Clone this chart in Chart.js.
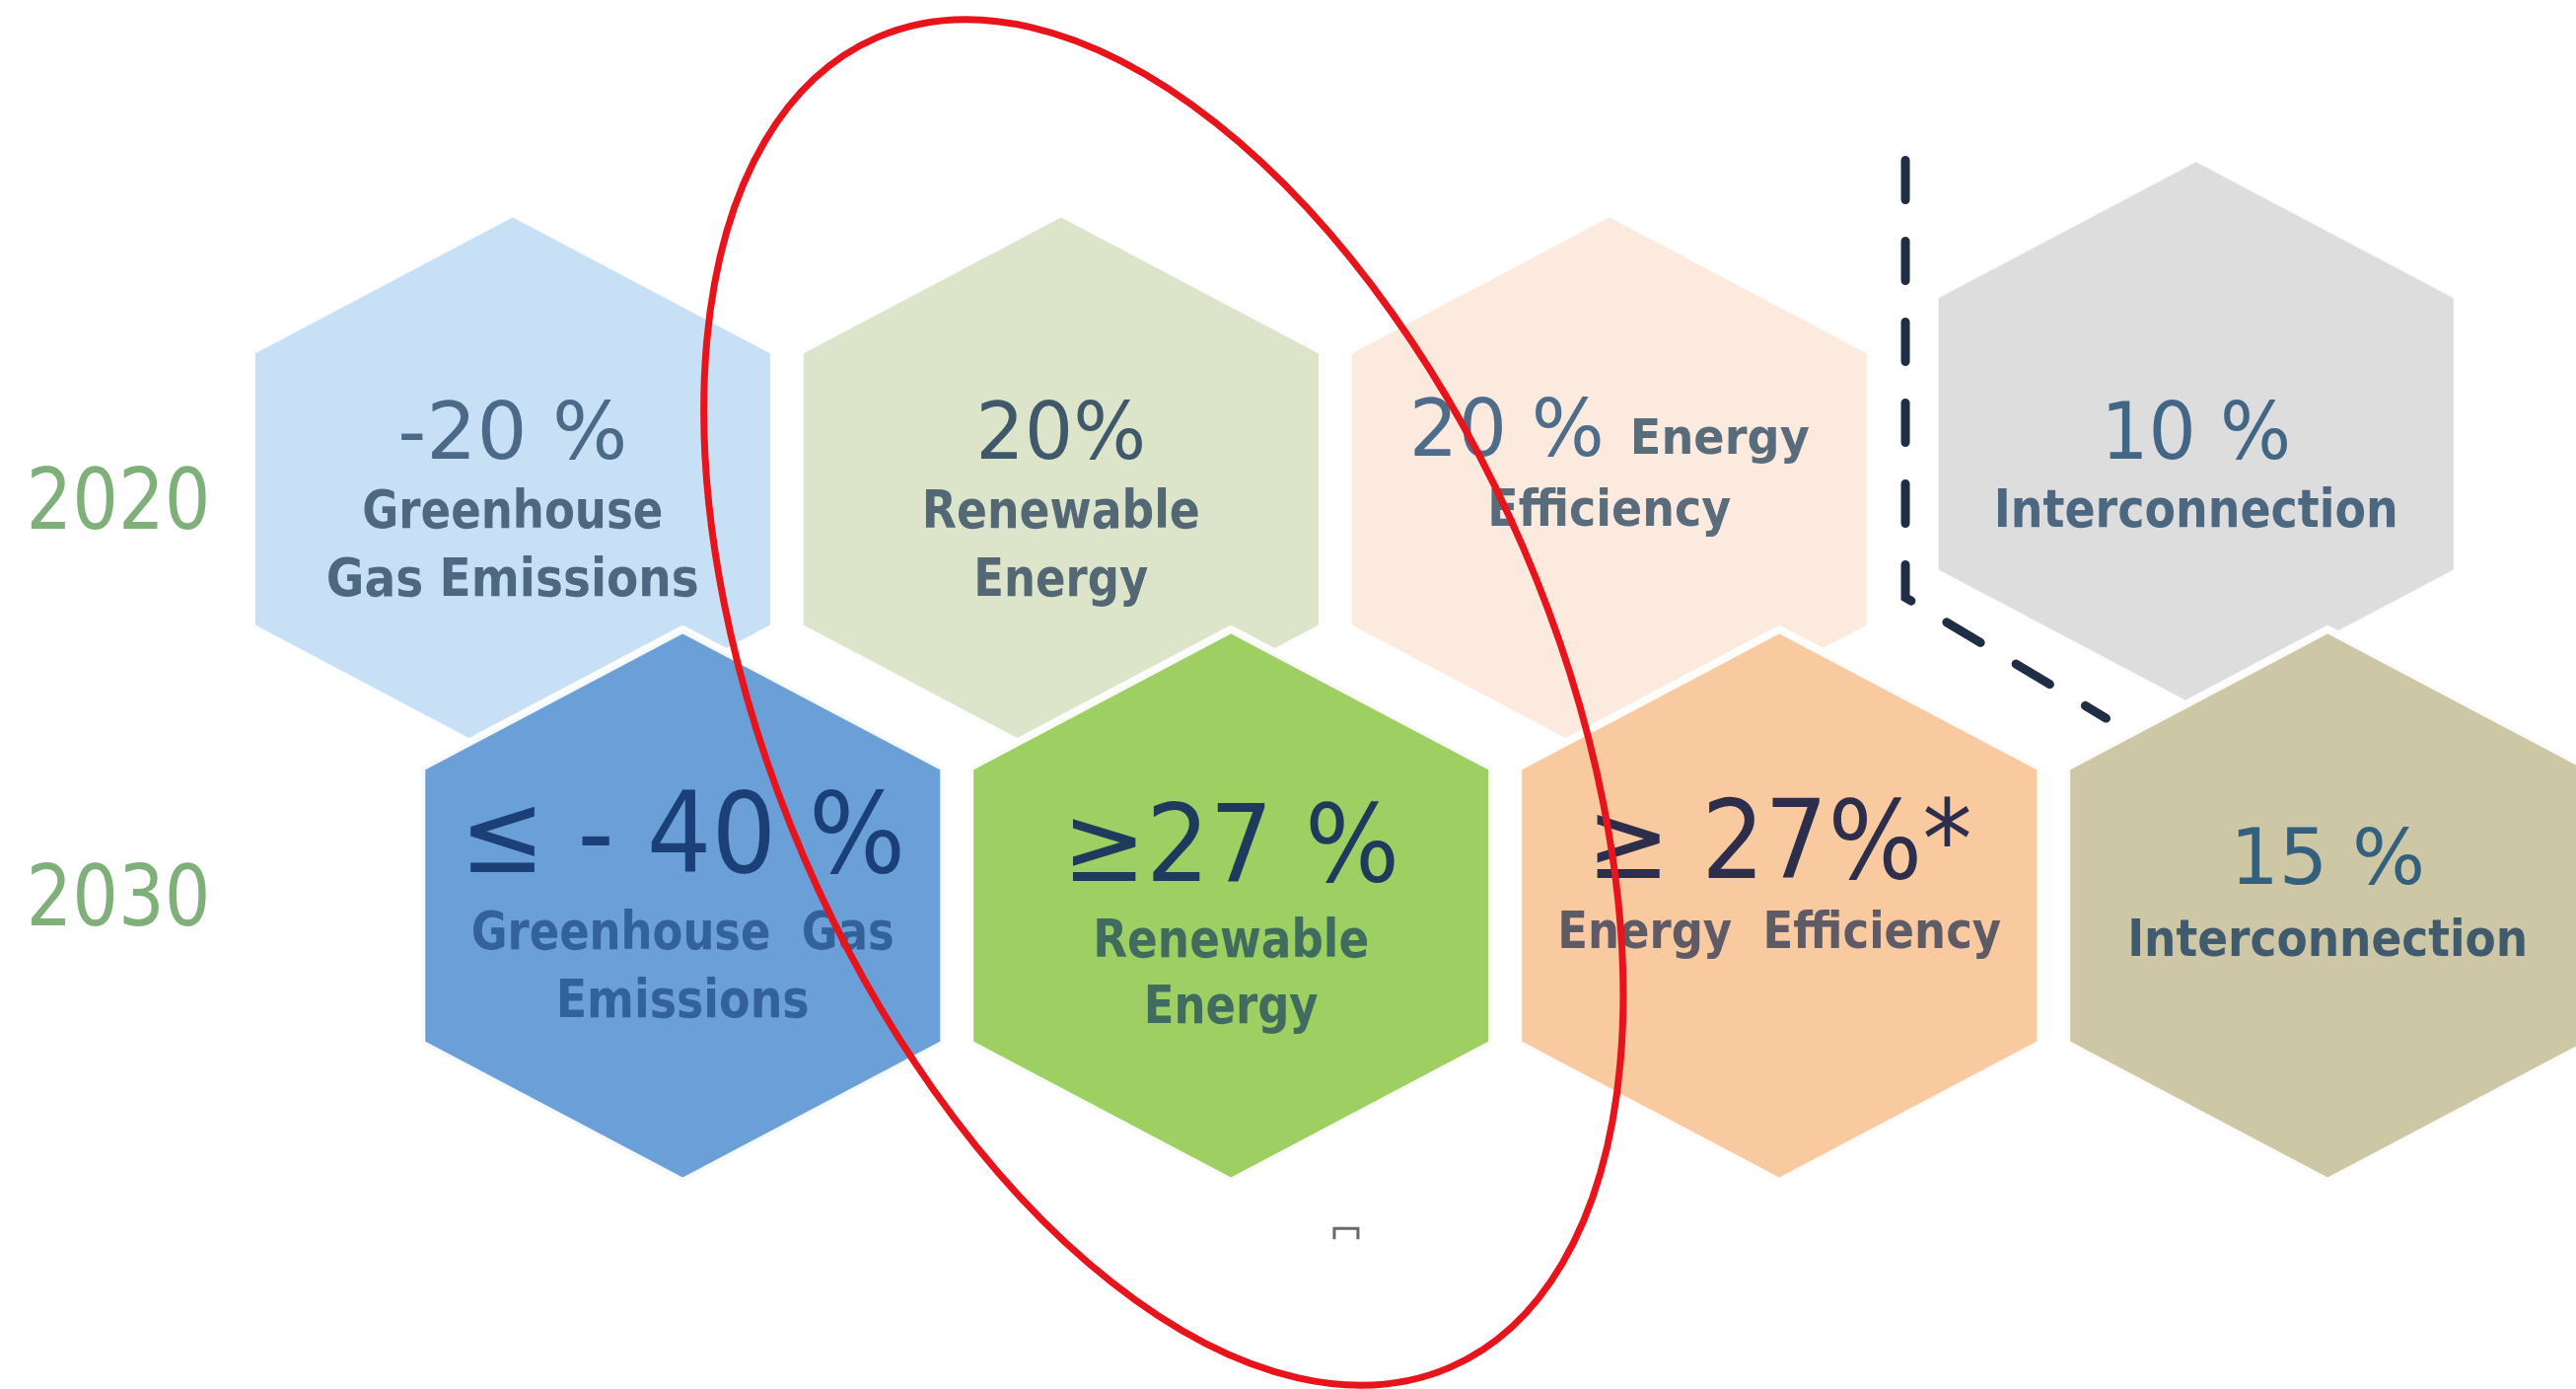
<!DOCTYPE html>
<html>
<head>
<meta charset="utf-8">
<script src="https://cdn.jsdelivr.net/npm/chart.js@4.4.1/dist/chart.umd.min.js"></script>
<style>
  html, body { margin: 0; padding: 0; background: #ffffff; overflow: hidden; }
  canvas { display: block; }
</style>
</head>
<body>
<canvas id="c" width="2612" height="1408"></canvas>
<script>
// ---------------- DATA ----------------
const years = ['2020', '2030'];
const areas = ['Greenhouse Gas Emissions', 'Renewable Energy', 'Energy Efficiency', 'Interconnection'];
const headline2020 = ['-20 %', '20%', '20 %', '10 %'];
const headline2030 = ['\u2264 - 40 %', '\u226527 %', '\u2265 27%*', '15 %'];
const caption2020 = [['Greenhouse', 'Gas Emissions'], ['Renewable', 'Energy'], ['Energy', 'Efficiency'], ['Interconnection']];
const caption2030 = [['Greenhouse  Gas', 'Emissions'], ['Renewable', 'Energy'], ['Energy  Efficiency'], ['Interconnection']];

// ---------------- LAYOUT / STYLE ----------------
const colShift2020 = [0, 0, 0, 0.07];
const rowShift2020 = [0, 0, 0, -0.133];
const colShift2030 = [0.31, 0.31, 0.31, 0.31];
const rowShift2030 = [0, 0, 0, 0];
const fill2020 = ['#c7e0f6', '#dce4ca', '#fdeadf', '#dddddd'];
const fill2030 = ['#6a9fd8', '#9dcf63', '#f9c9a0', '#cec7a6'];

const HEX_HW = 265, HEX_R = 280, HEX_BORDER = 8;

const style2020 = [
  {head: {font: '80px "DejaVu Sans"', w: 233, dy: -31, color: '#4a6a88'},
   capFont: 'bold 54px "DejaVu Sans"', capColor: '#4e6882', caps: [{w: 305, dy: 39}, {w: 378, dy: 108}]},
  {head: {font: '80px "DejaVu Sans"', w: 173, dy: -31, color: '#40596a'},
   capFont: 'bold 54px "DejaVu Sans"', capColor: '#536874', caps: [{w: 282, dy: 39}, {w: 177, dy: 108}]},
  {head: {font: '80px "DejaVu Sans"', w: 198, dy: -34, color: '#4d6d8a'},
   inline: {font: 'bold 50px "DejaVu Sans"', w: 182, dy: -36, gap: 26},
   capFont: 'bold 52px "DejaVu Sans"', capColor: '#596c7c', caps: [null, {w: 247, dy: 37}]},
  {head: {font: '80px "DejaVu Sans"', w: 193, dy: -31, color: '#426686'},
   capFont: 'bold 54px "DejaVu Sans"', capColor: '#4c6780', caps: [{w: 410, dy: 38}]}
];
const style2030 = [
  {head: {font: '114px "DejaVu Sans"', w: 452, dy: -34, color: '#1b3f77'},
   capFont: 'bold 54px "DejaVu Sans"', capColor: '#33619b', caps: [{w: 429, dy: 44}, {w: 257, dy: 113}]},
  {head: {font: '108px "DejaVu Sans"', w: 342, dy: -25, color: '#1e3b5e'},
   capFont: 'bold 54px "DejaVu Sans"', capColor: '#3f6c5e', caps: [{w: 280, dy: 52}, {w: 177, dy: 119}]},
  {head: {font: '110px "DejaVu Sans"', w: 391, dy: -28, color: '#2c2e4c'},
   capFont: 'bold 52px "DejaVu Sans"', capColor: '#5e5a66', caps: [{w: 450, dy: 43}]},
  {head: {font: '78px "DejaVu Sans"', w: 198, dy: -22, color: '#33607f'},
   capFont: 'bold 52px "DejaVu Sans"', capColor: '#415b6e', caps: [{w: 406, dy: 51}]}
];
const yearStyle = {font: '86px "DejaVu Sans"', w: 187, x: 120, dy: [40, 20], color: '#80b07a'};

const ellipseCenter = {x: 1.187, y: 0.512};
const ellipseRadii = [397, 734];
const ellipseRotationDeg = -23.3;
const dashPath = [[2.54, -0.79], [2.54, 0.26], [2.906, 0.55]];
const markPoint = {x: 1.52, y: 1.787};

// ---------------- HELPERS ----------------
function hexCanvas(fill) {
  const c = document.createElement('canvas');
  const pad = HEX_BORDER + 2;
  c.width = 2 * (HEX_HW + pad);
  c.height = 2 * (HEX_R + pad);
  const g = c.getContext('2d');
  g.translate(c.width / 2, c.height / 2);
  g.beginPath();
  g.moveTo(0, -HEX_R);
  g.lineTo(HEX_HW, -HEX_R / 2);
  g.lineTo(HEX_HW, HEX_R / 2);
  g.lineTo(0, HEX_R);
  g.lineTo(-HEX_HW, HEX_R / 2);
  g.lineTo(-HEX_HW, -HEX_R / 2);
  g.closePath();
  g.fillStyle = fill;
  g.fill();
  g.lineJoin = 'round';
  g.lineWidth = HEX_BORDER;
  g.strokeStyle = 'rgba(255,255,255,0.95)';
  g.stroke();
  return c;
}

function drawFit(ctx, text, cx, baseline, font, width, color) {
  ctx.save();
  ctx.font = font;
  const w = ctx.measureText(text).width || 1;
  ctx.translate(cx, baseline);
  ctx.scale(width / w, 1);
  ctx.textAlign = 'center';
  ctx.textBaseline = 'alphabetic';
  ctx.fillStyle = color;
  ctx.fillText(text, 0, 0);
  ctx.restore();
}

const pts2020 = areas.map((a, i) => ({x: i + colShift2020[i], y: 0 + rowShift2020[i]}));
const pts2030 = areas.map((a, i) => ({x: i + colShift2030[i], y: 1 + rowShift2030[i]}));

const overlay = {
  id: 'overlay',
  afterDatasetsDraw(chart) {
    const ctx = chart.ctx;
    const ys = chart.scales.y;
    years.forEach((yr, r) => {
      drawFit(ctx, yr, yearStyle.x, ys.getPixelForValue(r) + yearStyle.dy[r], yearStyle.font, yearStyle.w, yearStyle.color);
    });
    const rows = [
      {ds: 1, row: 0, heads: headline2020, caps: caption2020, styles: style2020},
      {ds: 0, row: 1, heads: headline2030, caps: caption2030, styles: style2030}
    ];
    rows.forEach(R => {
      const meta = chart.getDatasetMeta(R.ds);
      const rowY = ys.getPixelForValue(R.row);
      meta.data.forEach((el, i) => {
        const st = R.styles[i];
        const cx = el.x;
        if (st.inline) {
          const total = st.head.w + st.inline.gap + st.inline.w;
          const left = cx - total / 2;
          drawFit(ctx, R.heads[i], left + st.head.w / 2, rowY + st.head.dy, st.head.font, st.head.w, st.head.color);
          drawFit(ctx, R.caps[i][0], left + st.head.w + st.inline.gap + st.inline.w / 2, rowY + st.inline.dy, st.inline.font, st.inline.w, st.capColor);
        } else {
          drawFit(ctx, R.heads[i], cx, rowY + st.head.dy, st.head.font, st.head.w, st.head.color);
        }
        R.caps[i].forEach((line, k) => {
          const cs = st.caps[k];
          if (!cs) return;
          drawFit(ctx, line, cx, rowY + cs.dy, st.capFont, cs.w, st.capColor);
        });
      });
    });
  },
  afterDraw(chart) {
    const ctx = chart.ctx;
    const xs = chart.scales.x, ys = chart.scales.y;
    ctx.save();
    ctx.strokeStyle = '#1f2d45';
    ctx.lineWidth = 9;
    ctx.lineCap = 'round';
    ctx.setLineDash([40, 42]);
    ctx.beginPath();
    dashPath.forEach((p, k) => {
      const px = xs.getPixelForValue(p[0]), py = ys.getPixelForValue(p[1]);
      if (k === 0) ctx.moveTo(px, py); else ctx.lineTo(px, py);
    });
    ctx.stroke();
    ctx.restore();
    ctx.save();
    const mx = xs.getPixelForValue(markPoint.x), my = ys.getPixelForValue(markPoint.y);
    ctx.strokeStyle = '#6a6a6a';
    ctx.lineWidth = 3;
    ctx.beginPath();
    ctx.moveTo(mx - 12, my + 6);
    ctx.lineTo(mx - 12, my - 5);
    ctx.lineTo(mx + 12, my - 5);
    ctx.lineTo(mx + 12, my + 6);
    ctx.stroke();
    ctx.restore();
    ctx.save();
    ctx.strokeStyle = '#e8141c';
    ctx.lineWidth = 7;
    ctx.beginPath();
    ctx.ellipse(xs.getPixelForValue(ellipseCenter.x), ys.getPixelForValue(ellipseCenter.y),
      ellipseRadii[0], ellipseRadii[1], ellipseRotationDeg * Math.PI / 180, 0, Math.PI * 2);
    ctx.stroke();
    ctx.restore();
  }
};

new Chart(document.getElementById('c'), {
  type: 'scatter',
  data: {
    datasets: [
      {label: '2030', data: pts2030, order: 1, pointStyle: fill2030.map(hexCanvas), pointRadius: 20, pointHoverRadius: 20},
      {label: '2020', data: pts2020, order: 2, pointStyle: fill2020.map(hexCanvas), pointRadius: 20, pointHoverRadius: 20}
    ]
  },
  options: {
    responsive: false,
    animation: false,
    devicePixelRatio: 1,
    events: [],
    layout: {padding: 0, autoPadding: false},
    plugins: {legend: {display: false}, tooltip: {enabled: false}, title: {display: false}},
    scales: {
      x: {type: 'linear', min: -0.935, max: 3.763, display: false},
      y: {type: 'linear', min: -1.175, max: 2.161, reverse: true, display: false}
    }
  },
  plugins: [overlay]
});
</script>
</body>
</html>
